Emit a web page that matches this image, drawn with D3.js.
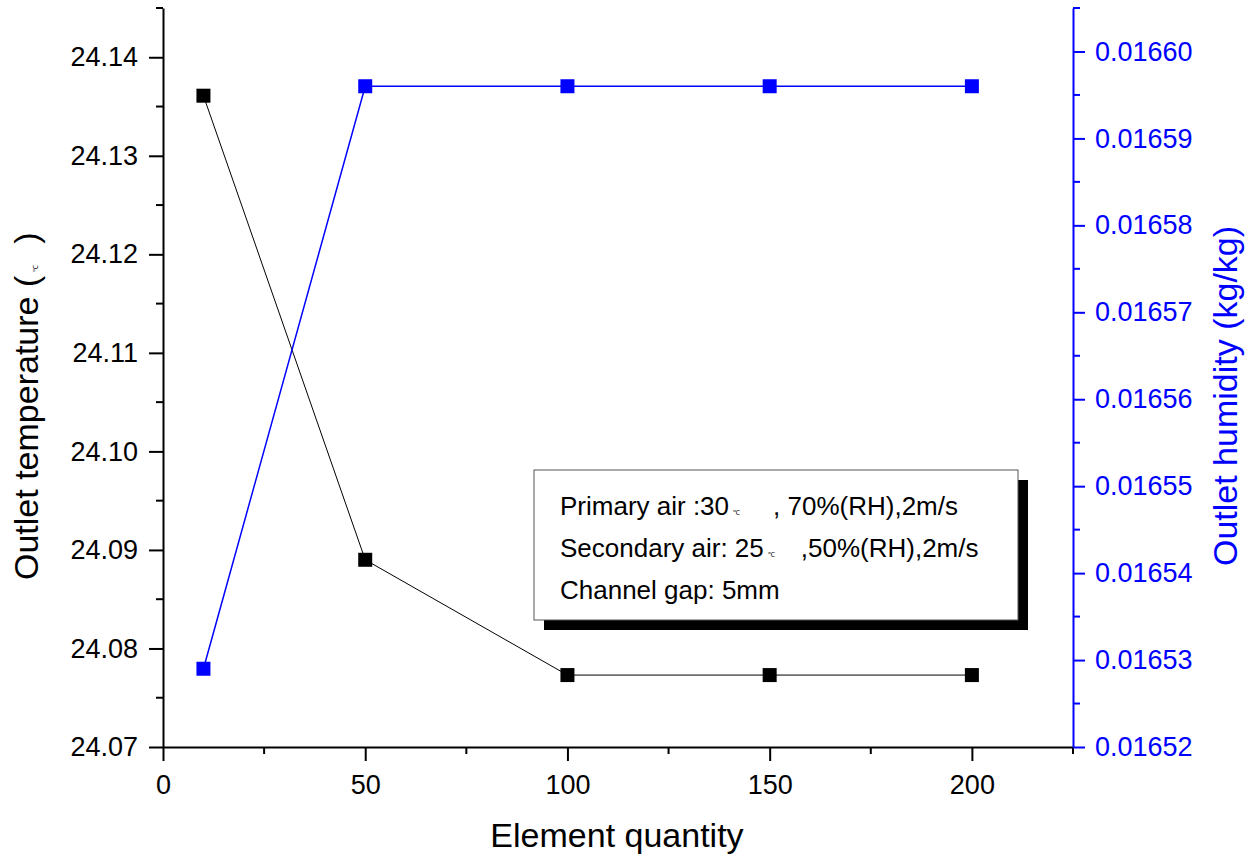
<!DOCTYPE html>
<html>
<head>
<meta charset="utf-8">
<script src="https://cdn.jsdelivr.net/npm/d3@7"></script>
<style>
  body { margin: 0; background: #fff; }
  text { font-family: "Liberation Sans", Arial, sans-serif; }
</style>
</head>
<body>
<script>
// data
var elementQty = [10, 50, 100, 150, 200];
var outletTemp = [24.1361, 24.0890, 24.0773, 24.0773, 24.0773];
var outletHum = [0.016529, 0.016596, 0.016596, 0.016596, 0.016596];
var xTicks = [0, 50, 100, 150, 200];
var xMinor = [25, 75, 125, 175, 225];
var tempTicks = [24.07, 24.08, 24.09, 24.10, 24.11, 24.12, 24.13, 24.14];
var tempMinor = [24.075, 24.085, 24.095, 24.105, 24.115, 24.125, 24.135, 24.145];
var humTicks = [0.01652, 0.01653, 0.01654, 0.01655, 0.01656, 0.01657, 0.01658, 0.01659, 0.01660];
var humMinor = [0.016525, 0.016535, 0.016545, 0.016555, 0.016565, 0.016575, 0.016585, 0.016595, 0.016605];
var legendLines = [
  ["Primary air :30", "℃", ", 70%(RH),2m/s"],
  ["Secondary air: 25", "℃", ",50%(RH),2m/s"],
  ["Channel gap: 5mm", "", ""]
];

var screen = { width: 1253, height: 858 };
var margins = { left: 163, right: 180, top: 8, bottom: 111 };
var plotRight = screen.width - margins.right;
var plotBottom = screen.height - margins.bottom;

var xScale = d3.scaleLinear().domain([0, 225]).range([margins.left, plotRight]);
var yLeft = d3.scaleLinear().domain([24.07, 24.145]).range([plotBottom, margins.top]);
var yRight = d3.scaleLinear().domain([0.01652, 0.016605]).range([plotBottom, margins.top]);

var svg = d3.select("body").append("svg")
  .attr("width", screen.width)
  .attr("height", screen.height);

var blue = "#0000ff";

function styleAxis(g, color) {
  g.attr("font-size", null).attr("font-family", null);
  g.select(".domain").attr("stroke", color).attr("stroke-width", 2);
  g.selectAll(".tick line").attr("stroke", color).attr("stroke-width", 2);
  g.selectAll(".tick text").attr("fill", color).style("font-size", "27px");
}

// x axis
var xAxis = svg.append("g")
  .attr("transform", "translate(0," + plotBottom + ")")
  .call(d3.axisBottom(xScale).tickValues(xTicks).tickSize(14).tickPadding(14).tickSizeOuter(0));
styleAxis(xAxis, "#000");
svg.append("g").selectAll("line")
  .data(xMinor)
  .enter().append("line")
  .attr("x1", function(d) { return xScale(d); })
  .attr("x2", function(d) { return xScale(d); })
  .attr("y1", plotBottom)
  .attr("y2", plotBottom + 7)
  .attr("stroke", "#000").attr("stroke-width", 2);

// left axis
var leftAxis = svg.append("g")
  .attr("transform", "translate(" + margins.left + ",0)")
  .call(d3.axisLeft(yLeft).tickValues(tempTicks).tickFormat(d3.format(".2f")).tickSize(14).tickPadding(11).tickSizeOuter(0));
styleAxis(leftAxis, "#000");
svg.append("g").selectAll("line")
  .data(tempMinor)
  .enter().append("line")
  .attr("x1", margins.left)
  .attr("x2", margins.left - 7)
  .attr("y1", function(d) { return yLeft(d); })
  .attr("y2", function(d) { return yLeft(d); })
  .attr("stroke", "#000").attr("stroke-width", 2);

// right axis
var rightAxis = svg.append("g")
  .attr("transform", "translate(" + plotRight + ",0)")
  .call(d3.axisRight(yRight).tickValues(humTicks).tickFormat(d3.format(".5f")).tickSize(12).tickPadding(10).tickSizeOuter(0));
styleAxis(rightAxis, blue);
svg.append("g").selectAll("line")
  .data(humMinor)
  .enter().append("line")
  .attr("x1", plotRight)
  .attr("x2", plotRight + 7)
  .attr("y1", function(d) { return yRight(d); })
  .attr("y2", function(d) { return yRight(d); })
  .attr("stroke", blue).attr("stroke-width", 2);

// axis titles
svg.append("text")
  .attr("x", (margins.left + plotRight) / 2 - 1)
  .attr("y", 847)
  .attr("text-anchor", "middle")
  .style("font-size", "34px")
  .text("Element quantity");

var leftTitle = svg.append("text")
  .attr("transform", "translate(38,580) rotate(-90)")
  .attr("text-anchor", "start")
  .style("font-size", "34px");
leftTitle.append("tspan").text("Outlet temperature (");
leftTitle.append("tspan").attr("dx", 4).style("font-size", "7px").text("℃");
leftTitle.append("tspan").attr("dx", 21).text(")");

svg.append("text")
  .attr("transform", "translate(1237,396) rotate(-90)")
  .attr("text-anchor", "middle")
  .attr("fill", blue)
  .style("font-size", "34px")
  .text("Outlet humidity (kg/kg)");

// temperature series
var tempLine = d3.line()
  .x(function(d, i) { return xScale(elementQty[i]); })
  .y(function(d) { return yLeft(d); });
svg.append("path")
  .datum(outletTemp)
  .attr("d", tempLine)
  .attr("fill", "none")
  .attr("stroke", "#000")
  .attr("stroke-width", 1);
svg.append("g").selectAll("rect")
  .data(outletTemp)
  .enter().append("rect")
  .attr("x", function(d, i) { return xScale(elementQty[i]) - 7; })
  .attr("y", function(d) { return yLeft(d) - 7; })
  .attr("width", 14).attr("height", 14)
  .attr("fill", "#000");

// humidity series
var humLine = d3.line()
  .x(function(d, i) { return xScale(elementQty[i]); })
  .y(function(d) { return yRight(d); });
svg.append("path")
  .datum(outletHum)
  .attr("d", humLine)
  .attr("fill", "none")
  .attr("stroke", blue)
  .attr("stroke-width", 1.5);
svg.append("g").selectAll("rect")
  .data(outletHum)
  .enter().append("rect")
  .attr("x", function(d, i) { return xScale(elementQty[i]) - 7; })
  .attr("y", function(d) { return yRight(d) - 7; })
  .attr("width", 14).attr("height", 14)
  .attr("fill", blue);

// note box with shadow
var box = { x: 534, y: 470, w: 484, h: 150 };
svg.append("rect")
  .attr("x", box.x + 10).attr("y", box.y + 10)
  .attr("width", box.w).attr("height", box.h)
  .attr("fill", "#000");
svg.append("rect")
  .attr("x", box.x).attr("y", box.y)
  .attr("width", box.w).attr("height", box.h)
  .attr("fill", "#fff")
  .attr("stroke", "#555").attr("stroke-width", 1);

var gaps = [33, 26, 0];
legendLines.forEach(function(parts, i) {
  var t = svg.append("text")
    .attr("x", box.x + 26)
    .attr("y", box.y + 45 + i * 42)
    .style("font-size", "26px");
  t.append("tspan").text(parts[0]);
  if (parts[1]) t.append("tspan").attr("dx", 4).style("font-size", "7px").text(parts[1]);
  if (parts[2]) t.append("tspan").attr("dx", gaps[i]).text(parts[2]);
});
</script>
</body>
</html>
